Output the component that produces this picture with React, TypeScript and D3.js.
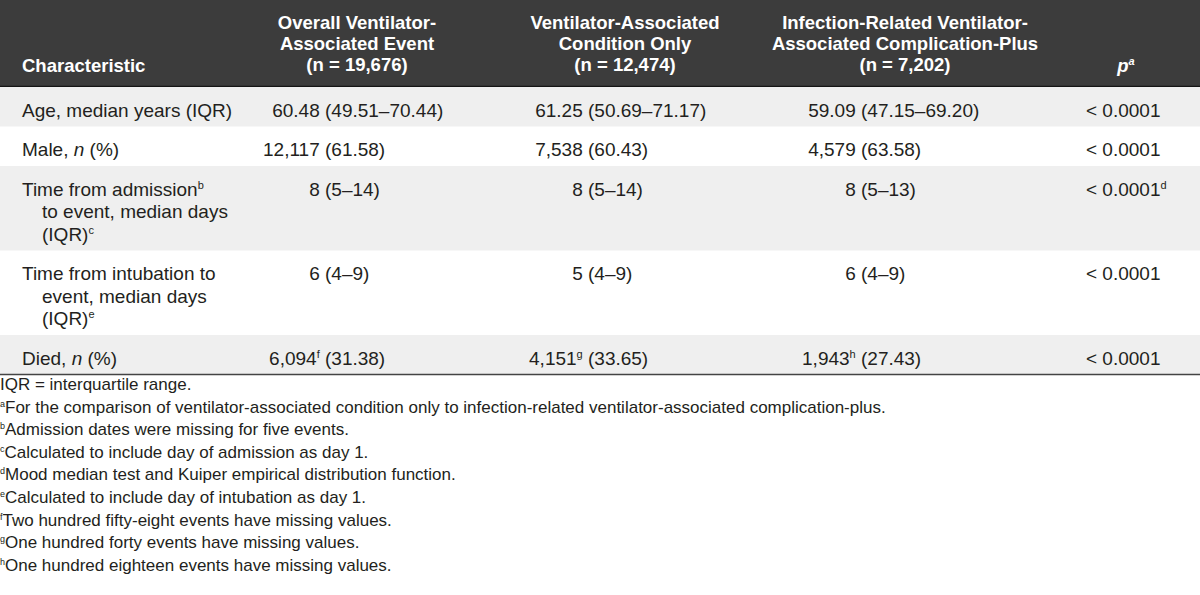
import React from "react";
import * as d3 from "d3";

// ---------- data ----------
const columnHeaders: string[][] = [
  ["Overall Ventilator-", "Associated Event"],
  ["Ventilator-Associated", "Condition Only"],
  ["Infection-Related Ventilator-", "Associated Complication-Plus"],
];
const groupSizes = [19676, 12474, 7202];
const characteristics: string[][] = [
  ["Age, median years (IQR)"],
  ["Male, _n_ (%)"],
  ["Time from admission^b", "to event, median days", "(IQR)^c"],
  ["Time from intubation to", "event, median days", "(IQR)^e"],
  ["Died, _n_ (%)"],
];
const rowKinds = ["median2", "count", "median0", "median0", "count"];
const overallEvent: number[][] = [[60.48, 49.51, 70.44], [12117, 61.58], [8, 5, 14], [6, 4, 9], [6094, 31.38]];
const overallNotes = ["", "", "", "", "f"];
const vacOnly: number[][] = [[61.25, 50.69, 71.17], [7538, 60.43], [8, 5, 14], [5, 4, 9], [4151, 33.65]];
const vacNotes = ["", "", "", "", "g"];
const ivacPlus: number[][] = [[59.09, 47.15, 69.2], [4579, 63.58], [8, 5, 13], [6, 4, 9], [1943, 27.43]];
const ivacNotes = ["", "", "", "", "h"];
const pValues = [0.0001, 0.0001, 0.0001, 0.0001, 0.0001];
const pNotes = ["", "", "d", "", ""];
const footnotes = [
  "IQR = interquartile range.",
  "^aFor the comparison of ventilator-associated condition only to infection-related ventilator-associated complication-plus.",
  "^bAdmission dates were missing for five events.",
  "^cCalculated to include day of admission as day 1.",
  "^dMood median test and Kuiper empirical distribution function.",
  "^eCalculated to include day of intubation as day 1.",
  "^fTwo hundred fifty-eight events have missing values.",
  "^gOne hundred forty events have missing values.",
  "^hOne hundred eighteen events have missing values.",
];

// ---------- layout ----------
const W = 1200;
const H = 595;
const FONT = "'Liberation Sans', Arial, Helvetica, sans-serif";
const INK = "#231f20";
const HEAD_BG = "#3c3c3c";
const ROW_BG = "#efefef";
const headerH = 87;
const lineH = 22.5;
const bodySize = 19;
const headSize = 18.5;
const noteSize = 17;

const colKeys = ["label", "overall", "vac", "ivac", "p"];
const headCenter = d3.scaleOrdinal<string, number>().domain(colKeys).range([22, 357, 625, 905, 1126]);
// body cells are aligned on the opening parenthesis; p values left-aligned
const bodyAnchor = d3.scaleOrdinal<string, number>().domain(colKeys).range([22, 325, 588, 861, 1086]);

const f2 = d3.format(".2f");
const f0 = d3.format("d");
const fc = d3.format(",");
const fp = d3.format(".4f");

function cellParts(kind: string, v: number[], note: string): [string, string] {
  const sup = note ? "^" + note : "";
  if (kind === "count") return [`${fc(v[0])}${sup}`, `(${f2(v[1])})`];
  const f = kind === "median2" ? f2 : f0;
  return [`${f(v[0])}${sup}`, `(${f(v[1])}–${f(v[2])})`];
}

type Seg = { t: string; sup?: boolean; it?: boolean };
function parse(s: string): Seg[] {
  const out: Seg[] = [];
  const re = /(\^[a-z])|(_[^_]+_)/g;
  let last = 0;
  let m: RegExpExecArray | null;
  while ((m = re.exec(s))) {
    if (m.index > last) out.push({ t: s.slice(last, m.index) });
    if (m[1]) out.push({ t: m[1].slice(1), sup: true });
    else out.push({ t: m[2].slice(1, -1), it: true });
    last = m.index + m[0].length;
  }
  if (last < s.length) out.push({ t: s.slice(last) });
  return out;
}

function Rich(props: {
  text: string; x: number; y: number; anchor?: string; size: number; supSize: number;
  shift: number; fill: string; weight?: string | number; italic?: boolean;
}) {
  const segs = parse(props.text);
  let raised = false;
  return (
    <text x={props.x} y={props.y} textAnchor={props.anchor || "start"} fontSize={props.size}
      fontFamily={FONT} fill={props.fill} fontWeight={props.weight || "normal"}
      fontStyle={props.italic ? "italic" : "normal"}>
      {segs.map((s, i) => {
        let dy = 0;
        if (s.sup && !raised) { dy = -props.shift; raised = true; }
        else if (!s.sup && raised) { dy = props.shift; raised = false; }
        return (
          <tspan key={i} dy={dy || undefined} fontSize={s.sup ? props.supSize : undefined}
            fontStyle={s.it ? "italic" : undefined}>{s.t}</tspan>
        );
      })}
    </text>
  );
}

export default function App() {
  const rowHeights = characteristics.map((l) => 17 + l.length * lineH);
  const rowTops = rowHeights.map((_, i) => headerH + d3.sum(rowHeights.slice(0, i)));
  const tableBottom = headerH + d3.sum(rowHeights);
  const groups = [
    { key: "overall", vals: overallEvent, notes: overallNotes },
    { key: "vac", vals: vacOnly, notes: vacNotes },
    { key: "ivac", vals: ivacPlus, notes: ivacNotes },
  ];
  const footY = d3.scaleLinear().domain([0, 1]).range([tableBottom + 15.5, tableBottom + 15.5 + 22.6]);
  const gap = bodySize * 0.278;

  return (
    <svg width={W} height={H} viewBox={`0 0 ${W} ${H}`}
      style={{ position: "absolute", left: 0, top: 0, display: "block", background: "#fff" }}>
      {/* header band */}
      <rect x={0} y={0} width={W} height={headerH} fill={HEAD_BG} />
      <line x1={0} x2={W} y1={headerH - 0.5} y2={headerH - 0.5} stroke="#151515" strokeWidth={1.5} />
      <Rich text="Characteristic" x={headCenter("label")} y={72} size={headSize} supSize={11}
        shift={7} fill="#fff" weight="bold" />
      {groups.map((g, gi) => (
        <g key={g.key}>
          {[...columnHeaders[gi], `(n = ${fc(groupSizes[gi])})`].map((line, li) => (
            <Rich key={li} text={line} x={headCenter(g.key)} y={29 + li * 21} anchor="middle"
              size={headSize} supSize={11} shift={7} fill="#fff" weight="bold" />
          ))}
        </g>
      ))}
      <Rich text="p^a" x={headCenter("p")} y={72} anchor="middle" size={headSize} supSize={11}
        shift={7} fill="#fff" weight="bold" italic />

      {/* body rows */}
      {characteristics.map((lines, ri) => {
        const top = rowTops[ri];
        const base = top + 29.5;
        return (
          <g key={ri}>
            {ri % 2 === 0 && <rect x={0} y={top} width={W} height={rowHeights[ri]} fill={ROW_BG} />}
            {lines.map((ln, li) => (
              <Rich key={li} text={ln} x={bodyAnchor("label") + (li > 0 ? 20 : 0)} y={base + li * lineH}
                size={bodySize} supSize={11} shift={7} fill={INK} />
            ))}
            {groups.map((g) => {
              const [lead, paren] = cellParts(rowKinds[ri], g.vals[ri], g.notes[ri]);
              return (
                <g key={g.key}>
                  <Rich text={lead} x={bodyAnchor(g.key) - gap} y={base} anchor="end" size={bodySize}
                    supSize={11} shift={7} fill={INK} />
                  <Rich text={paren} x={bodyAnchor(g.key)} y={base} anchor="start" size={bodySize}
                    supSize={11} shift={7} fill={INK} />
                </g>
              );
            })}
            <Rich text={`< ${fp(pValues[ri])}${pNotes[ri] ? "^" + pNotes[ri] : ""}`}
              x={bodyAnchor("p")} y={base} anchor="start" size={bodySize} supSize={11}
              shift={7} fill={INK} />
          </g>
        );
      })}
      <line x1={0} x2={W} y1={tableBottom} y2={tableBottom} stroke="#444" strokeWidth={1.5} />

      {/* footnotes */}
      {footnotes.map((fn, i) => (
        <Rich key={i} text={fn} x={0} y={footY(i)} size={noteSize} supSize={9} shift={6} fill={INK} />
      ))}
    </svg>
  );
}
